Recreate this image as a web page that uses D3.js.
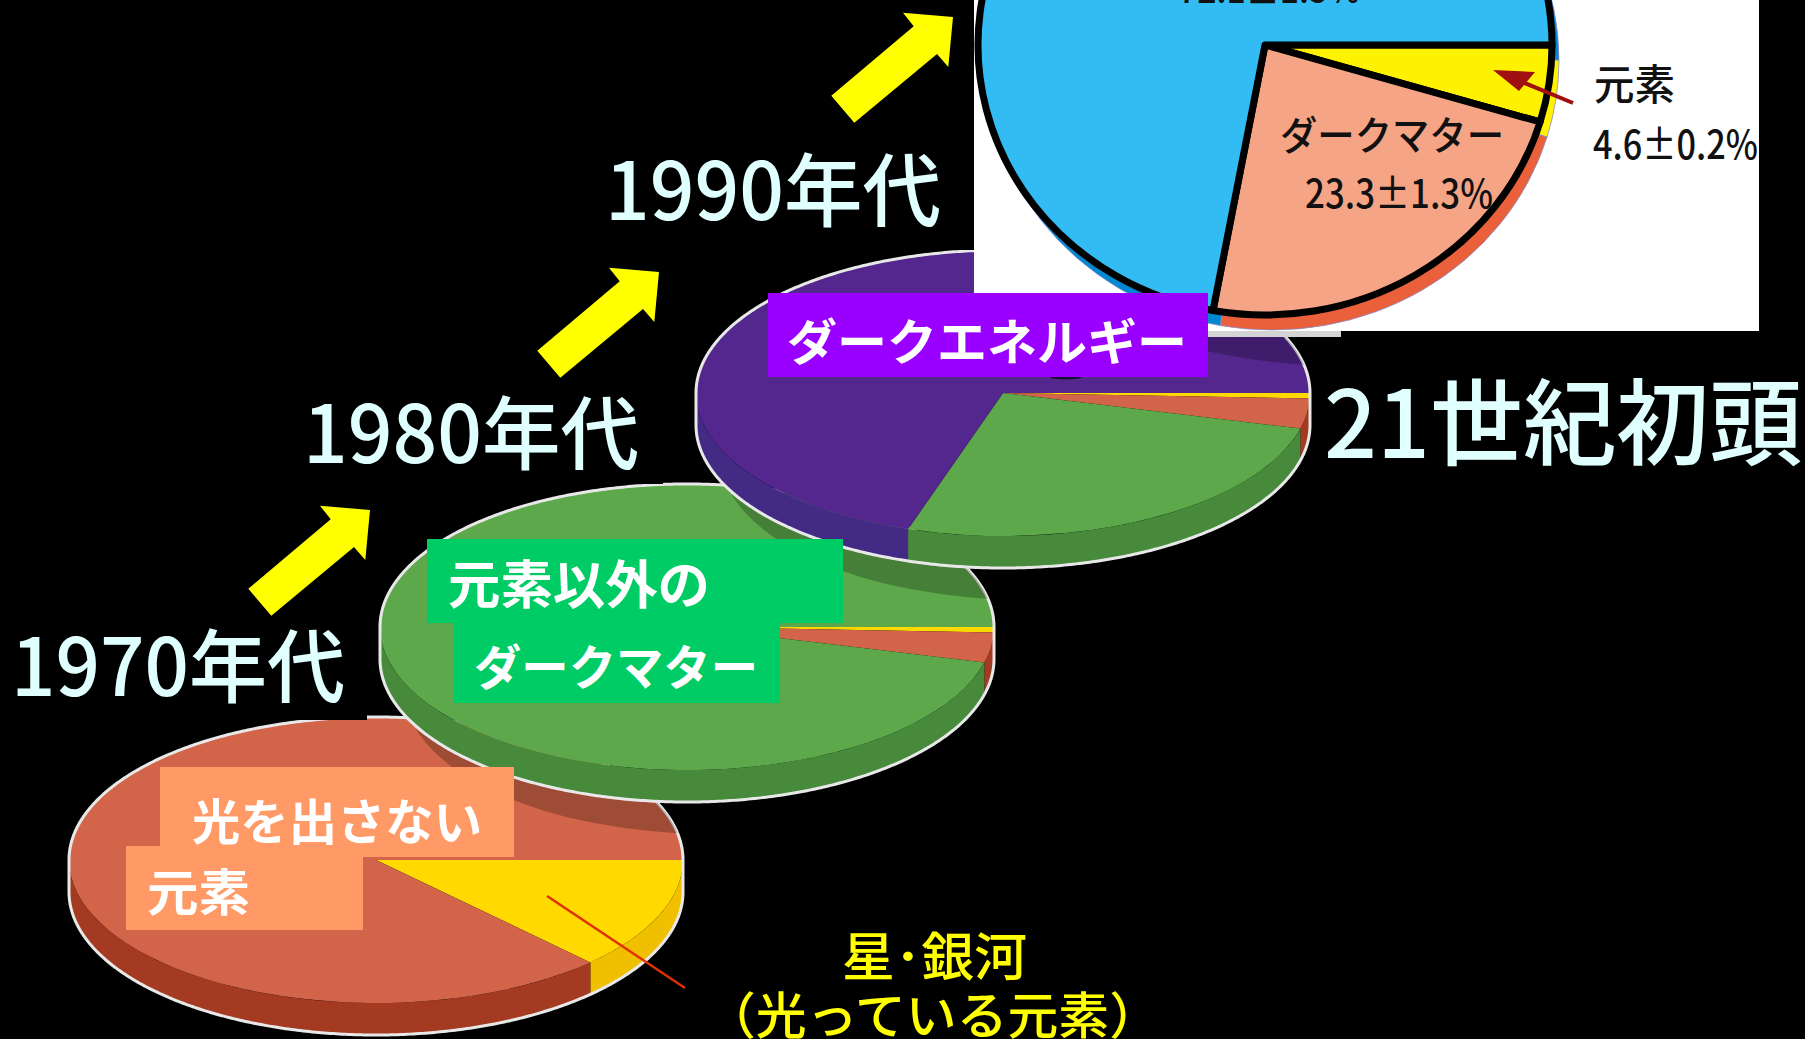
<!DOCTYPE html>
<html lang="ja">
<head>
<meta charset="utf-8">
<title>宇宙の組成の変遷</title>
<script src="https://cdn.jsdelivr.net/npm/d3@7"></script>
<style>
html,body{margin:0;padding:0;background:#000;overflow:hidden}
svg{display:block}
text{font-family:"Noto Sans CJK JP","Noto Sans",sans-serif}
</style>
</head>
<body>
<div id="chart"></div>
<script>
// Share of the universe, in percent, for each era (clockwise from due east)
const components = ["stars", "darkElements", "darkMatter", "darkEnergy"];
const values1970 = [12.7, 87.3, 0, 0];
const values1980 = [0.6, 3.4, 96, 0];
const values1990 = [0.6, 3.4, 26, 70];
const insetValues = [4.6, 23.3, 72.1];

const topColors = {stars:"#FFD900", darkElements:"#D26449", darkMatter:"#5DA84A", darkEnergy:"#54278F"};
const wallColors = {stars:"#F0C000", darkElements:"#A43A22", darkMatter:"#478A3C", darkEnergy:"#432A85"};
const insetColors = ["#FFF200", "#F5A585", "#33BBF3"];
const insetBackColors = ["#FFF200", "#E9603A", "#0088D0"];

const W = 1805, H = 1039;
const RX = 307, RY = 143, DEPTH = 32;

const svg = d3.select("#chart").append("svg").attr("width", W).attr("height", H);
svg.append("rect").attr("width", W).attr("height", H).attr("fill", "#000");
const defs = svg.append("defs");

const pie = d3.pie().sort(null).value(d => d).startAngle(Math.PI / 2).endAngle(Math.PI * 2.5);
const arc = d3.arc().innerRadius(0);

// Point on an ellipse, angle measured clockwise from 12 o'clock as d3.pie does
const onEllipse = (cx, cy, rx, ry) => a => [cx + rx * Math.sin(a), cy - ry * Math.cos(a)];
const sweep = (a0, a1) => d3.range(a0, a1, 0.01).concat([a1]);

// Outline of the whole disc including the visible wall
function silhouette(cx, cy) {
  const top = onEllipse(cx, cy, RX, RY), low = onEllipse(cx, cy + DEPTH, RX, RY);
  const pts = sweep(-Math.PI / 2, Math.PI / 2).map(top)
    .concat(sweep(Math.PI / 2, Math.PI * 1.5).map(low));
  return d3.line()(pts) + "Z";
}

function drawDisc(layer, cx, cy, values) {
  const g = layer.append("g").attr("class", "disc");
  const slices = pie(values);

  // Front wall: only the part of each slice facing the viewer
  slices.forEach((s, i) => {
    const a0 = Math.max(s.startAngle, Math.PI / 2), a1 = Math.min(s.endAngle, Math.PI * 1.5);
    if (a1 <= a0) return;
    const up = sweep(a0, a1).map(onEllipse(cx, cy, RX, RY));
    const dn = sweep(a0, a1).map(onEllipse(cx, cy + DEPTH, RX, RY)).reverse();
    g.append("path").attr("d", d3.line()(up.concat(dn)) + "Z").attr("fill", wallColors[components[i]]);
  });

  // Top face
  const face = g.append("g").attr("transform", `translate(${cx},${cy}) scale(1,${RY / RX})`);
  slices.forEach((s, i) => {
    if (s.endAngle > s.startAngle) {
      face.append("path").attr("d", arc.outerRadius(RX)(s)).attr("fill", topColors[components[i]]);
    }
  });

  g.append("path").attr("d", silhouette(cx, cy)).attr("fill", "none")
    .attr("stroke", "#E8E8E8").attr("stroke-width", 3).attr("stroke-linejoin", "round");
}

// Shadow of the disc above, falling on the top face of a lower one
function castShadow(layer, clipId, cx, cy) {
  layer.append("g").attr("clip-path", `url(#${clipId})`)
    .append("ellipse")
    .attr("cx", cx + 25).attr("cy", cy + DEPTH + 32)
    .attr("rx", RX).attr("ry", RY)
    .attr("fill", "rgba(0,0,0,0.24)");
}

const discs = [
  {id:"d70", cx:376,  cy:860, values:values1970},
  {id:"d80", cx:687,  cy:627, values:values1980},
  {id:"d90", cx:1003, cy:393, values:values1990}
];

discs.forEach(d => {
  defs.append("clipPath").attr("id", d.id).append("ellipse")
    .attr("cx", d.cx).attr("cy", d.cy).attr("rx", RX).attr("ry", RY);
});

// Black panels behind the era headings trim the top of each disc
const headingPanels = [
  {x:0,   y:620, w:367, h:100},
  {x:300, y:385, w:363, h:99},
  {x:600, y:140, w:374, h:110}
];

const discLayer = svg.append("g");
discs.forEach((d, i) => {
  if (i > 0) castShadow(discLayer, discs[i - 1].id, d.cx, d.cy);
  drawDisc(discLayer, d.cx, d.cy, d.values);
  const p = headingPanels[i];
  discLayer.append("rect").attr("x", p.x).attr("y", p.y).attr("width", p.w).attr("height", p.h).attr("fill", "#000");
});
// The newest disc is shaded from the same offset as the steps below it
castShadow(discLayer, "d90", 1319, 159);

// Inset: present-day composition pie on a white panel
const INSET = {x:974, y:0, w:785, h:331, cx:1265, cy:45, rx:287, ry:270};
defs.append("clipPath").attr("id", "insetClip").append("rect")
  .attr("x", INSET.x).attr("y", INSET.y).attr("width", INSET.w).attr("height", INSET.h);
const inset = svg.append("g").attr("clip-path", "url(#insetClip)");
inset.append("rect").attr("x", INSET.x).attr("y", INSET.y).attr("width", INSET.w).attr("height", INSET.h).attr("fill", "#fff");

const insetSlices = pie(insetValues);
const insetBack = inset.append("g")
  .attr("transform", `translate(${INSET.cx + 7},${INSET.cy + 15}) scale(1,${INSET.ry / INSET.rx})`);
insetSlices.forEach((s, i) => {
  insetBack.append("path").attr("d", arc.outerRadius(INSET.rx)(s))
    .attr("fill", insetBackColors[i])
    .attr("stroke", "#8C8CC8").attr("stroke-width", 0.8).attr("vector-effect", "non-scaling-stroke");
});
const insetFront = inset.append("g")
  .attr("transform", `translate(${INSET.cx},${INSET.cy}) scale(1,${INSET.ry / INSET.rx})`);
insetSlices.forEach((s, i) => {
  insetFront.append("path").attr("d", arc.outerRadius(INSET.rx)(s))
    .attr("fill", insetColors[i])
    .attr("stroke", "#000").attr("stroke-width", 7).attr("stroke-linejoin", "round")
    .attr("vector-effect", "non-scaling-stroke");
});

// Text helper: anchored at left with a fixed run length
function label(layer, str, x, y, size, fill, len, weight) {
  return layer.append("text").text(str)
    .attr("x", x).attr("y", y)
    .attr("font-size", size).attr("fill", fill)
    .attr("font-weight", weight || 700)
    .attr("textLength", len).attr("lengthAdjust", "spacingAndGlyphs");
}

// Inset annotations
const insetArrow = inset.append("g").attr("fill", "#A01010").attr("stroke", "none");
inset.append("line").attr("x1", 1573).attr("y1", 103).attr("x2", 1510).attr("y2", 77)
  .attr("stroke", "#A01010").attr("stroke-width", 4);
insetArrow.append("path").attr("d", d3.line()([[1493, 70], [1535, 72], [1519, 91]]) + "Z");

label(inset, "72.1±1.5%", 1178, 3, 38, "#111", 182, 500);
label(inset, "ダークマター", 1280, 150, 40, "#111", 224, 500);
label(inset, "23.3±1.3%", 1305, 208, 40, "#111", 188, 500);
label(inset, "元素", 1594, 100, 42, "#111", 81, 500);
label(inset, "4.6±0.2%", 1593, 159, 40, "#111", 165, 500);

// Small grey sliver left under the white panel, and the smudge below the energy label
svg.append("rect").attr("x", 1208).attr("y", 331).attr("width", 133).attr("height", 6).attr("fill", "#D4D4D4");
svg.append("ellipse").attr("cx", 1066).attr("cy", 377).attr("rx", 16).attr("ry", 2.5).attr("fill", "#1a1030");

// Coloured caption boxes
const boxes = [
  {x:160, y:767, w:354, h:90, fill:"#FF9966"},
  {x:126, y:846, w:237, h:84, fill:"#FF9966"},
  {x:427, y:539, w:416, h:84, fill:"#00CC66"},
  {x:454, y:623, w:326, h:80, fill:"#00CC66"},
  {x:768, y:293, w:440, h:84, fill:"#9900FF"}
];
const boxLayer = svg.append("g");
boxLayer.selectAll("rect").data(boxes).join("rect")
  .attr("x", d => d.x).attr("y", d => d.y).attr("width", d => d.w).attr("height", d => d.h)
  .attr("fill", d => d.fill);

// Pointer from the star slice to its caption
svg.append("line").attr("x1", 547).attr("y1", 896).attr("x2", 685).attr("y2", 988)
  .attr("stroke", "#E03000").attr("stroke-width", 2.4);

const textLayer = svg.append("g");
label(textLayer, "光を出さない", 192, 840, 49, "#fff", 290);
label(textLayer, "元素", 147, 911, 50, "#fff", 103);
label(textLayer, "元素以外の", 448, 604, 52, "#fff", 262);
label(textLayer, "ダークマター", 474, 685, 48, "#fff", 284);
label(textLayer, "ダークエネルギー", 787, 360, 49, "#fff", 400);

label(textLayer, "星･銀河", 842, 976, 52, "#FFFF00", 185, 500);
label(textLayer, "（光っている元素）", 705, 1034, 50, "#FFFF00", 455, 500);

// Era headings
const headingFill = "#E0FFFF";
label(textLayer, "1970年代", 11, 696, 80, headingFill, 334, 500);
label(textLayer, "1980年代", 303, 463, 80, headingFill, 336, 500);
label(textLayer, "1990年代", 605, 220, 80, headingFill, 336, 500);
label(textLayer, "21世紀初頭", 1324, 458, 94, headingFill, 478, 500);

// Rising arrows between eras: one outline, moved to each step
const arrowShape = [[248.3, 588.7], [271.3, 615.7], [354, 547], [365.3, 560], [370, 510], [320, 505.7], [330.7, 519.3]];
const arrowShifts = [[0, 0], [289, -238], [583, -493]];
svg.append("g").selectAll("path").data(arrowShifts).join("path")
  .attr("d", d3.line()(arrowShape) + "Z")
  .attr("transform", d => `translate(${d[0]},${d[1]})`)
  .attr("fill", "#FFFF00");
</script>
</body>
</html>
